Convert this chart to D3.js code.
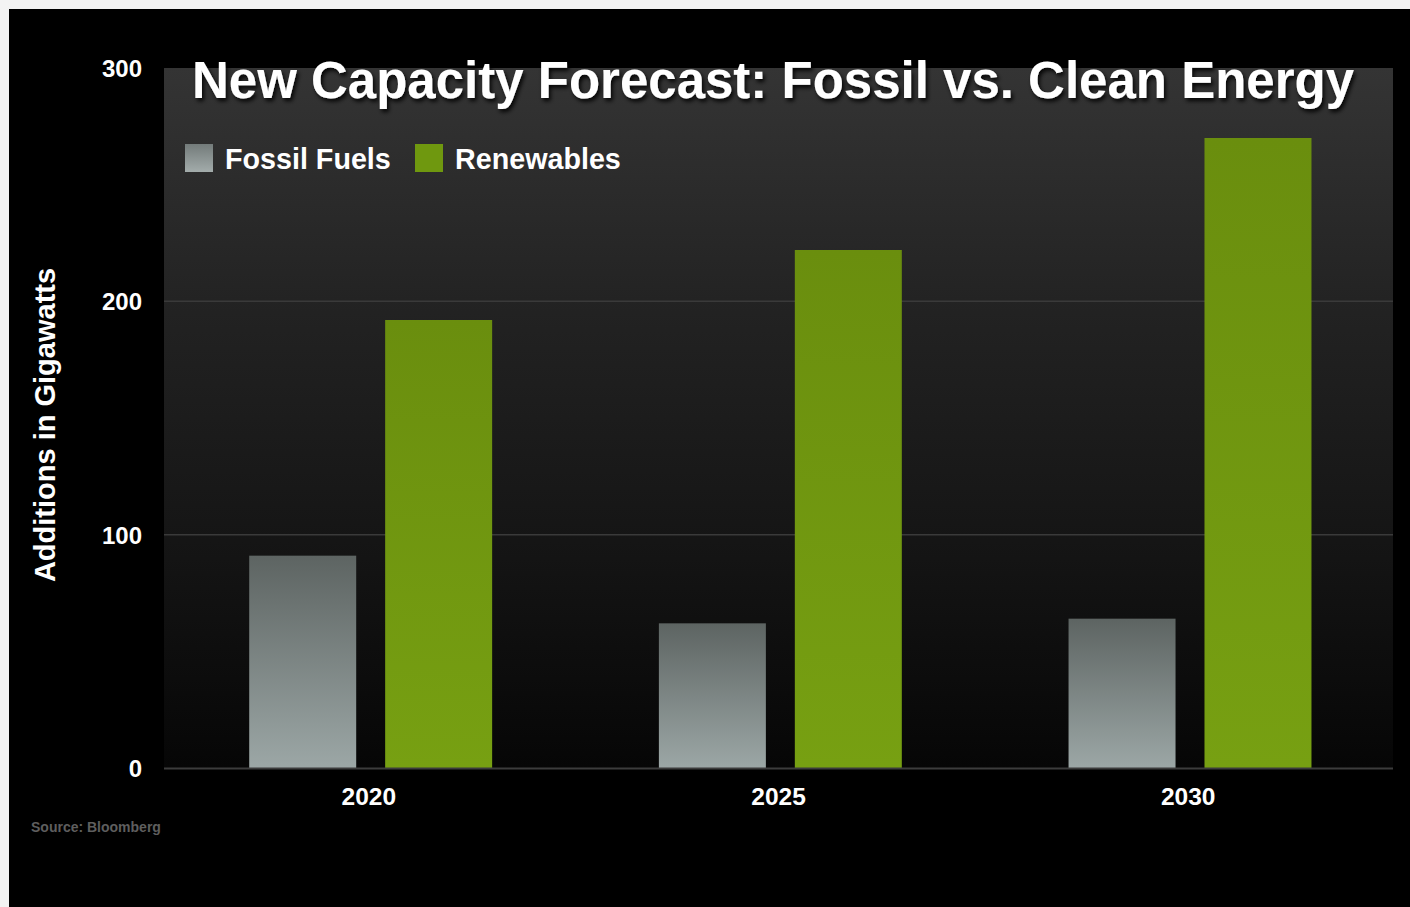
<!DOCTYPE html>
<html>
<head>
<meta charset="utf-8">
<script src="https://cdn.jsdelivr.net/npm/d3@7/dist/d3.min.js"></script>
<style>
html,body{margin:0;padding:0;background:#f3f3f3;}
svg{display:block;}
text{font-family:"Liberation Sans",Arial,Helvetica,sans-serif;font-weight:bold;}
</style>
</head>
<body>
<svg id="chart" width="1410" height="907"></svg>
<script>
const years = ["2020", "2025", "2030"];
const seriesNames = ["Fossil Fuels", "Renewables"];
const fossil = [91, 62, 64];
const renewables = [192, 222, 270];
const yTicks = [0, 100, 200, 300];
const title = "New Capacity Forecast: Fossil vs. Clean Energy";
const yTitle = "Additions in Gigawatts";
const source = "Source: Bloomberg";

const svg = d3.select("#chart");
const W = 1410, H = 907;
const m = {left: 164, right: 1393, top: 68, bottom: 768};

const defs = svg.append("defs");
const bgGrad = defs.append("linearGradient").attr("id","bgGrad").attr("x1",0).attr("y1",0).attr("x2",0).attr("y2",1);
bgGrad.append("stop").attr("offset","0%").attr("stop-color","#343434");
bgGrad.append("stop").attr("offset","35%").attr("stop-color","#222");
bgGrad.append("stop").attr("offset","70%").attr("stop-color","#141414");
bgGrad.append("stop").attr("offset","100%").attr("stop-color","#060606");
const fGrad = defs.append("linearGradient").attr("id","fossilGrad").attr("x1",0).attr("y1",0).attr("x2",0).attr("y2",1);
fGrad.append("stop").attr("offset","0%").attr("stop-color","#5d6462");
fGrad.append("stop").attr("offset","100%").attr("stop-color","#9ca7a6");
const rGrad = defs.append("linearGradient").attr("id","renewGrad").attr("x1",0).attr("y1",0).attr("x2",0).attr("y2",1);
rGrad.append("stop").attr("offset","0%").attr("stop-color","#6a8e0e");
rGrad.append("stop").attr("offset","100%").attr("stop-color","#77a012");
const lfGrad = defs.append("linearGradient").attr("id","legFossil").attr("x1",0).attr("y1",0).attr("x2",0).attr("y2",1);
lfGrad.append("stop").attr("offset","0%").attr("stop-color","#737b7a");
lfGrad.append("stop").attr("offset","100%").attr("stop-color","#a3acab");
const shadow = defs.append("filter").attr("id","shadow").attr("x","-10%").attr("y","-20%").attr("width","120%").attr("height","160%");
shadow.append("feDropShadow").attr("dx",2).attr("dy",3).attr("stdDeviation",2).attr("flood-color","#000").attr("flood-opacity",0.9);

// black slide
svg.append("rect").attr("x",9).attr("y",9).attr("width",W-9).attr("height",H-9).attr("fill","#000");

// plot background
svg.append("rect").attr("x",m.left).attr("y",m.top).attr("width",m.right-m.left).attr("height",m.bottom-m.top).attr("fill","url(#bgGrad)");

const y = d3.scaleLinear().domain([0,300]).range([m.bottom, m.top]);
const x0 = d3.scaleBand().domain(years).range([m.left, m.right]).padding(0);
const bw0 = x0.bandwidth();
const x1 = d3.scaleBand().domain(seriesNames).range([bw0*0.208, bw0*0.801]).paddingInner(0.213).paddingOuter(0);

// gridlines
svg.append("g").selectAll("line").data(yTicks.filter(d=>d>0 && d<300)).join("line")
  .attr("x1",m.left).attr("x2",m.right).attr("y1",d=>y(d)).attr("y2",d=>y(d))
  .attr("stroke","#3a3a3a").attr("stroke-width",1.5);

// bars
const data = years.map((yr,i)=>({year:yr, values:[{s:"Fossil Fuels",v:fossil[i]},{s:"Renewables",v:renewables[i]}]}));
svg.append("g").selectAll("g").data(data).join("g")
  .attr("transform",d=>`translate(${x0(d.year)},0)`)
  .selectAll("rect").data(d=>d.values).join("rect")
  .attr("x",d=>x1(d.s)).attr("width",x1.bandwidth())
  .attr("y",d=>y(d.v)).attr("height",d=>y(0)-y(d.v))
  .attr("fill",d=>d.s==="Fossil Fuels"?"url(#fossilGrad)":"url(#renewGrad)");

// axis baseline
svg.append("line").attr("x1",m.left).attr("x2",m.right).attr("y1",m.bottom+0.5).attr("y2",m.bottom+0.5).attr("stroke","#3c3c3c").attr("stroke-width",2);

// y axis labels
const yAxis = d3.axisLeft(y).tickValues(yTicks).tickSize(0).tickPadding(22);
const ya = svg.append("g").attr("transform",`translate(${m.left},0)`).call(yAxis);
ya.select(".domain").remove();
ya.selectAll("text").attr("fill","#fff").style("font-size","24px").attr("font-family",null).attr("dy","0.36em");

// x axis labels
const xAxis = d3.axisBottom(x0).tickSize(0).tickPadding(20);
const xa = svg.append("g").attr("transform",`translate(0,${m.bottom})`).call(xAxis);
xa.select(".domain").remove();
xa.selectAll("text").attr("fill","#fff").style("font-size","24.5px").attr("font-family",null);

// title
svg.append("text").attr("x",773).attr("y",98).attr("text-anchor","middle")
  .attr("fill","#fff").style("font-size","51px").attr("filter","url(#shadow)").text(title);

// legend
const legX = [185, 415];
const leg = svg.append("g").selectAll("g").data(seriesNames).join("g")
  .attr("transform",(d,i)=>`translate(${legX[i]},144)`);
leg.append("rect").attr("width",28).attr("height",28)
  .attr("fill",(d,i)=>i===0?"url(#legFossil)":"#6f980f");
leg.append("text").attr("x",40).attr("y",25).attr("fill","#fff").style("font-size","28.7px").text(d=>d);

// y title
svg.append("text").attr("transform","translate(55,425) rotate(-90)").attr("text-anchor","middle")
  .attr("fill","#fff").style("font-size","29px").text(yTitle);

// source
svg.append("text").attr("x",31).attr("y",832).attr("fill","#5e5e5e").style("font-size","14px").text(source);
</script>
</body>
</html>
